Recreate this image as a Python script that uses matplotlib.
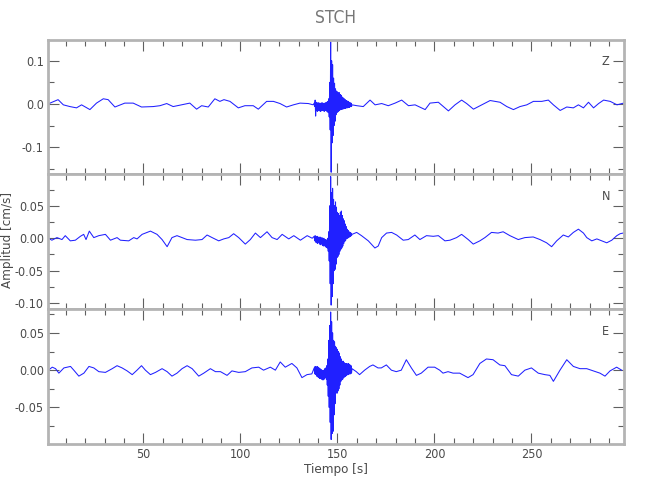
import numpy as np
import matplotlib
matplotlib.use('Agg')
import matplotlib.pyplot as plt
from matplotlib.ticker import MultipleLocator, FormatStrFormatter

plt.rcParams['font.family'] = ['DejaVu Sans']
plt.rcParams['font.stretch'] = 'condensed'
plt.rcParams['axes.unicode_minus'] = False

station = 'STCH'
components = ['Z', 'N', 'E']

# quiet parts (time in s, amplitude in cm/s)
z_t_pre = [0.8, 6.0, 8.7, 12.1, 15.5, 18.1, 22.4, 25.8, 29.3, 31.8, 35.3, 40.4, 44.7, 49.0, 55.0, 58.5, 62.0, 65.3, 69.6, 73.9,
           77.4, 80.0, 83.4, 86.8, 89.4, 91.5, 94.6, 98.9, 102.3, 106.6, 109.2, 113.5, 117.0, 120.4, 123.8, 127.3, 130.7, 135.0, 137.5]
z_a_pre = [0.000, 0.010, -0.002, -0.006, -0.009, -0.002, -0.013, 0.002, 0.012, 0.010, -0.007, 0.002, 0.002, -0.007, -0.006, -0.004, 0.001, -0.006, -0.002, 0.002,
           -0.012, -0.004, -0.007, 0.012, 0.006, 0.010, 0.006, -0.009, -0.004, -0.004, -0.012, 0.006, 0.006, 0.001, -0.007, -0.002, 0.002, 0.001, -0.002]
z_t_post = [157.5, 160.0, 163.3, 166.8, 169.4, 172.8, 176.2, 179.7, 183.1, 186.6, 190.0, 195.2, 197.7, 202.0, 207.2, 210.6, 214.0, 216.6, 220.1, 223.5, 228.7,
            233.8, 237.3, 240.7, 244.1, 247.6, 251.0, 255.3, 258.7, 261.3, 264.8, 268.2, 271.6, 274.2, 276.8, 279.4, 282.0, 284.6, 287.2, 290.6, 294.1, 297.5]
z_a_post = [-0.002, -0.004, -0.006, 0.009, -0.002, 0.001, -0.004, 0.002, 0.009, -0.004, -0.002, -0.013, 0.002, 0.004, -0.016, -0.002, 0.009, 0.001, -0.012, -0.004, 0.008,
            0.004, -0.006, -0.013, -0.006, -0.002, 0.006, 0.006, 0.009, -0.002, -0.015, -0.007, -0.009, -0.002, -0.009, 0.004, -0.009, 0.001, 0.009, 0.006, -0.002, 0.002]

n_t_pre = [1.0, 2.8, 5.4, 8.0, 9.7, 12.3, 14.9, 17.5, 19.2, 20.4, 22.1, 24.4, 27.0, 30.4, 33.0, 36.4, 38.1, 42.4, 45.0, 46.7, 49.3, 53.6, 57.0, 59.6, 62.2, 64.7,
           67.3, 69.9, 72.5, 76.8, 80.2, 82.8, 85.4, 88.8, 91.4, 94.0, 96.5, 99.1, 102.5, 105.1, 107.7, 110.3, 113.7, 116.3, 118.9, 121.5, 124.9, 127.5, 130.9, 134.4, 137.0]
n_a_pre = [0.000, -0.003, 0.001, -0.002, 0.004, -0.004, -0.003, 0.003, 0.006, -0.002, 0.011, 0.001, 0.004, 0.006, -0.003, 0.001, -0.003, -0.004, 0.001, -0.001, 0.006, 0.011, 0.006, -0.002, -0.013, 0.001,
           0.004, 0.001, -0.002, -0.003, -0.002, 0.005, 0.001, -0.004, -0.001, 0.001, 0.007, 0.001, -0.009, -0.002, 0.008, 0.001, 0.010, 0.001, -0.002, 0.006, -0.001, 0.004, -0.003, 0.004, 0.000]
n_t_post = [157.5, 159.9, 162.4, 165.9, 169.3, 171.0, 172.8, 175.3, 177.9, 180.5, 183.9, 186.5, 189.9, 192.5, 195.9, 199.4, 202.0, 205.4, 208.0, 211.4, 214.0, 217.4, 220.0, 223.4, 226.0,
            229.4, 232.8, 235.4, 238.9, 243.2, 246.6, 250.9, 254.4, 257.8, 260.4, 263.0, 266.4, 269.0, 271.6, 274.2, 276.8, 278.5, 281.1, 283.7, 286.2, 288.8, 291.4, 294.0, 295.7, 297.3]
n_a_post = [0.006, 0.009, 0.004, -0.004, -0.015, -0.012, 0.001, 0.008, 0.009, 0.005, -0.003, -0.002, 0.005, -0.002, 0.004, 0.003, 0.004, -0.004, -0.003, 0.001, 0.006, -0.002, -0.009, -0.004, 0.001,
            0.009, 0.008, 0.010, 0.004, -0.002, 0.001, 0.002, -0.002, -0.007, -0.013, -0.004, 0.005, 0.002, 0.009, 0.014, 0.008, 0.001, -0.004, -0.001, -0.004, -0.007, -0.003, 0.004, 0.007, 0.008]

e_t_pre = [1.0, 3.0, 4.7, 6.4, 9.0, 12.4, 14.1, 16.7, 19.3, 21.9, 24.4, 27.0, 30.4, 33.9, 36.4, 39.0, 41.6, 44.2, 46.7, 49.0, 51.0, 53.6, 56.2, 59.6, 62.2, 64.7,
           67.3, 69.9, 72.5, 75.1, 78.5, 81.1, 84.5, 87.1, 89.7, 93.1, 95.6, 99.1, 102.5, 105.9, 109.4, 111.9, 115.4, 118.0, 120.5, 123.1, 126.5, 129.1, 131.7, 134.3, 136.8]
e_a_pre = [0.000, 0.004, 0.002, -0.004, 0.003, 0.005, 0.000, -0.008, -0.004, 0.005, 0.003, -0.002, -0.003, 0.002, 0.006, 0.003, -0.001, -0.006, 0.000, 0.006, 0.000, -0.006, -0.003, 0.002, -0.002, -0.008,
           -0.004, 0.002, 0.006, 0.002, -0.008, -0.004, 0.002, -0.002, -0.002, -0.007, -0.001, -0.003, -0.002, 0.003, 0.004, 0.000, 0.004, 0.000, 0.011, 0.004, 0.009, 0.003, -0.010, -0.006, -0.005]
e_t_post = [157.5, 159.7, 161.4, 164.0, 166.6, 168.3, 170.9, 172.6, 175.2, 177.8, 180.3, 182.9, 185.5, 188.1, 190.7, 193.2, 196.7, 200.1, 202.7, 204.4, 207.0, 209.6, 213.0, 217.3, 219.9,
            223.4, 226.8, 230.2, 233.7, 236.3, 239.7, 243.2, 246.6, 250.0, 253.5, 256.9, 259.5, 261.3, 264.7, 268.2, 271.6, 275.0, 278.5, 281.9, 285.3, 287.9, 290.5, 293.9, 296.5]
e_a_post = [0.002, -0.002, -0.006, 0.000, 0.005, 0.007, 0.003, 0.003, 0.007, 0.000, -0.002, 0.000, 0.014, 0.003, -0.007, -0.004, 0.004, 0.004, 0.000, -0.004, -0.002, -0.004, -0.004, -0.010, -0.006,
            0.009, 0.015, 0.014, 0.007, 0.006, -0.006, -0.008, 0.000, 0.003, -0.004, -0.006, -0.007, -0.015, 0.000, 0.014, 0.005, 0.002, 0.002, -0.001, -0.004, -0.008, -0.001, 0.004, 0.000]

# burst: upper / lower swing every 0.5 s from 138 s to 157 s
burst_t = np.arange(138.0, 157.5, 0.5)
z_up = [0.002, 0.009, 0.004, 0.002, 0.003, 0.002, 0.002, 0.001, 0.003, 0.002, 0.001, 0.002, 0.003, 0.004, 0.006, 0.012, 0.05, 0.144, 0.10, 0.091,
        0.06, 0.048, 0.035, 0.03, 0.028, 0.026, 0.026, 0.022, 0.02, 0.016, 0.014, 0.012, 0.010, 0.008, 0.007, 0.006, 0.004, 0.003, 0.002]
z_lo = [-0.006, -0.028, -0.016, -0.017, -0.015, -0.016, -0.017, -0.016, -0.015, -0.016, -0.017, -0.015, -0.016, -0.018, -0.02, -0.03, -0.06, -0.158, -0.09, -0.073,
        -0.05, -0.04, -0.025, -0.02, -0.018, -0.016, -0.014, -0.013, -0.012, -0.012, -0.011, -0.010, -0.010, -0.009, -0.009, -0.008, -0.008, -0.006, -0.006]
n_up = [0.003, 0.004, 0.002, 0.003, 0.002, 0.001, 0.002, 0.000, 0.001, -0.001, 0.000, -0.002, -0.002, -0.003, 0.000, 0.01, 0.05, 0.095, 0.07, 0.077,
        0.06, 0.05, 0.056, 0.048, 0.04, 0.038, 0.035, 0.04, 0.042, 0.035, 0.03, 0.027, 0.022, 0.018, 0.014, 0.012, 0.010, 0.009, 0.008]
n_lo = [-0.004, -0.006, -0.007, -0.008, -0.007, -0.009, -0.010, -0.009, -0.011, -0.012, -0.011, -0.013, -0.014, -0.015, -0.02, -0.035, -0.07, -0.103, -0.09, -0.07,
        -0.05, -0.048, -0.04, -0.03, -0.028, -0.025, -0.02, -0.017, -0.015, -0.012, -0.008, -0.005, -0.003, 0.000, 0.000, 0.001, 0.002, 0.003, 0.004]
e_up = [0.003, 0.005, 0.004, 0.005, 0.004, 0.003, 0.002, 0.001, 0.000, -0.001, 0.000, 0.002, 0.003, 0.006, 0.015, 0.04, 0.06, 0.078, 0.065, 0.05,
        0.04, 0.038, 0.032, 0.03, 0.028, 0.025, 0.023, 0.018, 0.015, 0.012, 0.012, 0.010, 0.009, 0.009, 0.008, 0.009, 0.008, 0.007, 0.006]
e_lo = [-0.005, -0.006, -0.008, -0.009, -0.010, -0.011, -0.011, -0.012, -0.013, -0.013, -0.012, -0.010, -0.012, -0.02, -0.035, -0.05, -0.07, -0.093, -0.085, -0.082,
        -0.06, -0.045, -0.03, -0.031, -0.028, -0.025, -0.02, -0.015, -0.013, -0.012, -0.010, -0.009, -0.008, -0.007, -0.006, -0.006, -0.005, -0.005, -0.004]

x_range = [0.8, 297.7]
y_ranges = [[-0.162, 0.148], [-0.109, 0.099], [-0.099, 0.082]]
y_major = [0.1, 0.05, 0.05]
y_minor = [0.05, 0.025, 0.025]
y_fmt = ['%.1f', '%.2f', '%.2f']


def makeTrace(t_pre, a_pre, up, lo, t_post, a_post):
	t = list(t_pre)
	a = list(a_pre)
	for i in range(len(burst_t)):
		t.append(burst_t[i])
		a.append(up[i])
		t.append(burst_t[i] + 0.25)
		a.append(lo[i])
	t += t_post
	a += a_post
	return t, a


traces = [makeTrace(z_t_pre, z_a_pre, z_up, z_lo, z_t_post, z_a_post),
          makeTrace(n_t_pre, n_a_pre, n_up, n_lo, n_t_post, n_a_post),
          makeTrace(e_t_pre, e_a_pre, e_up, e_lo, e_t_post, e_a_post)]

fig = plt.figure(figsize=(6.5, 5), dpi=100)
left = 48 / 650
width = 576 / 650
tops = [40, 174, 309]
bottoms = [174, 309, 444]
grey = '#b4b4b4'
txt = '#4a4a4a'

for i in range(3):
	ax = fig.add_axes([left, 1 - bottoms[i] / 500, width, (bottoms[i] - tops[i]) / 500])
	t, a = traces[i]
	ax.plot(t, a, color='#2020ff', lw=0.75)
	ax.set_xlim(x_range)
	ax.set_ylim(y_ranges[i])
	ax.xaxis.set_major_locator(MultipleLocator(50))
	ax.xaxis.set_minor_locator(MultipleLocator(10))
	ax.yaxis.set_major_locator(MultipleLocator(y_major[i]))
	ax.yaxis.set_minor_locator(MultipleLocator(y_minor[i]))
	ax.yaxis.set_major_formatter(FormatStrFormatter(y_fmt[i]))
	for s in ax.spines.values():
		s.set_color(grey)
		s.set_linewidth(2)
	ax.tick_params(which='both', direction='in', top=True, right=True, color='#606060', width=0.8,
	               labelcolor=txt, labelsize=9, pad=3)
	ax.tick_params(which='major', length=8)
	ax.tick_params(which='minor', length=4.5)
	if i < 2:
		ax.tick_params(labelbottom=False)
	ax.text(0.968, 0.836, components[i], transform=ax.transAxes, ha='center', va='center',
	        fontsize=9, color=txt)

fig.text(336 / 650, 1 - 18 / 500, station, ha='center', va='center', fontsize=12.5, color='#777777')
fig.text(336 / 650, 1 - 469 / 500, 'Tiempo [s]', ha='center', va='center', fontsize=9.5, color=txt)
fig.text(8 / 650, 1 - 240 / 500, 'Amplitud [cm/s]', ha='center', va='center', rotation=90,
         fontsize=9.5, color=txt)

plt.savefig('out.png', dpi=100)
